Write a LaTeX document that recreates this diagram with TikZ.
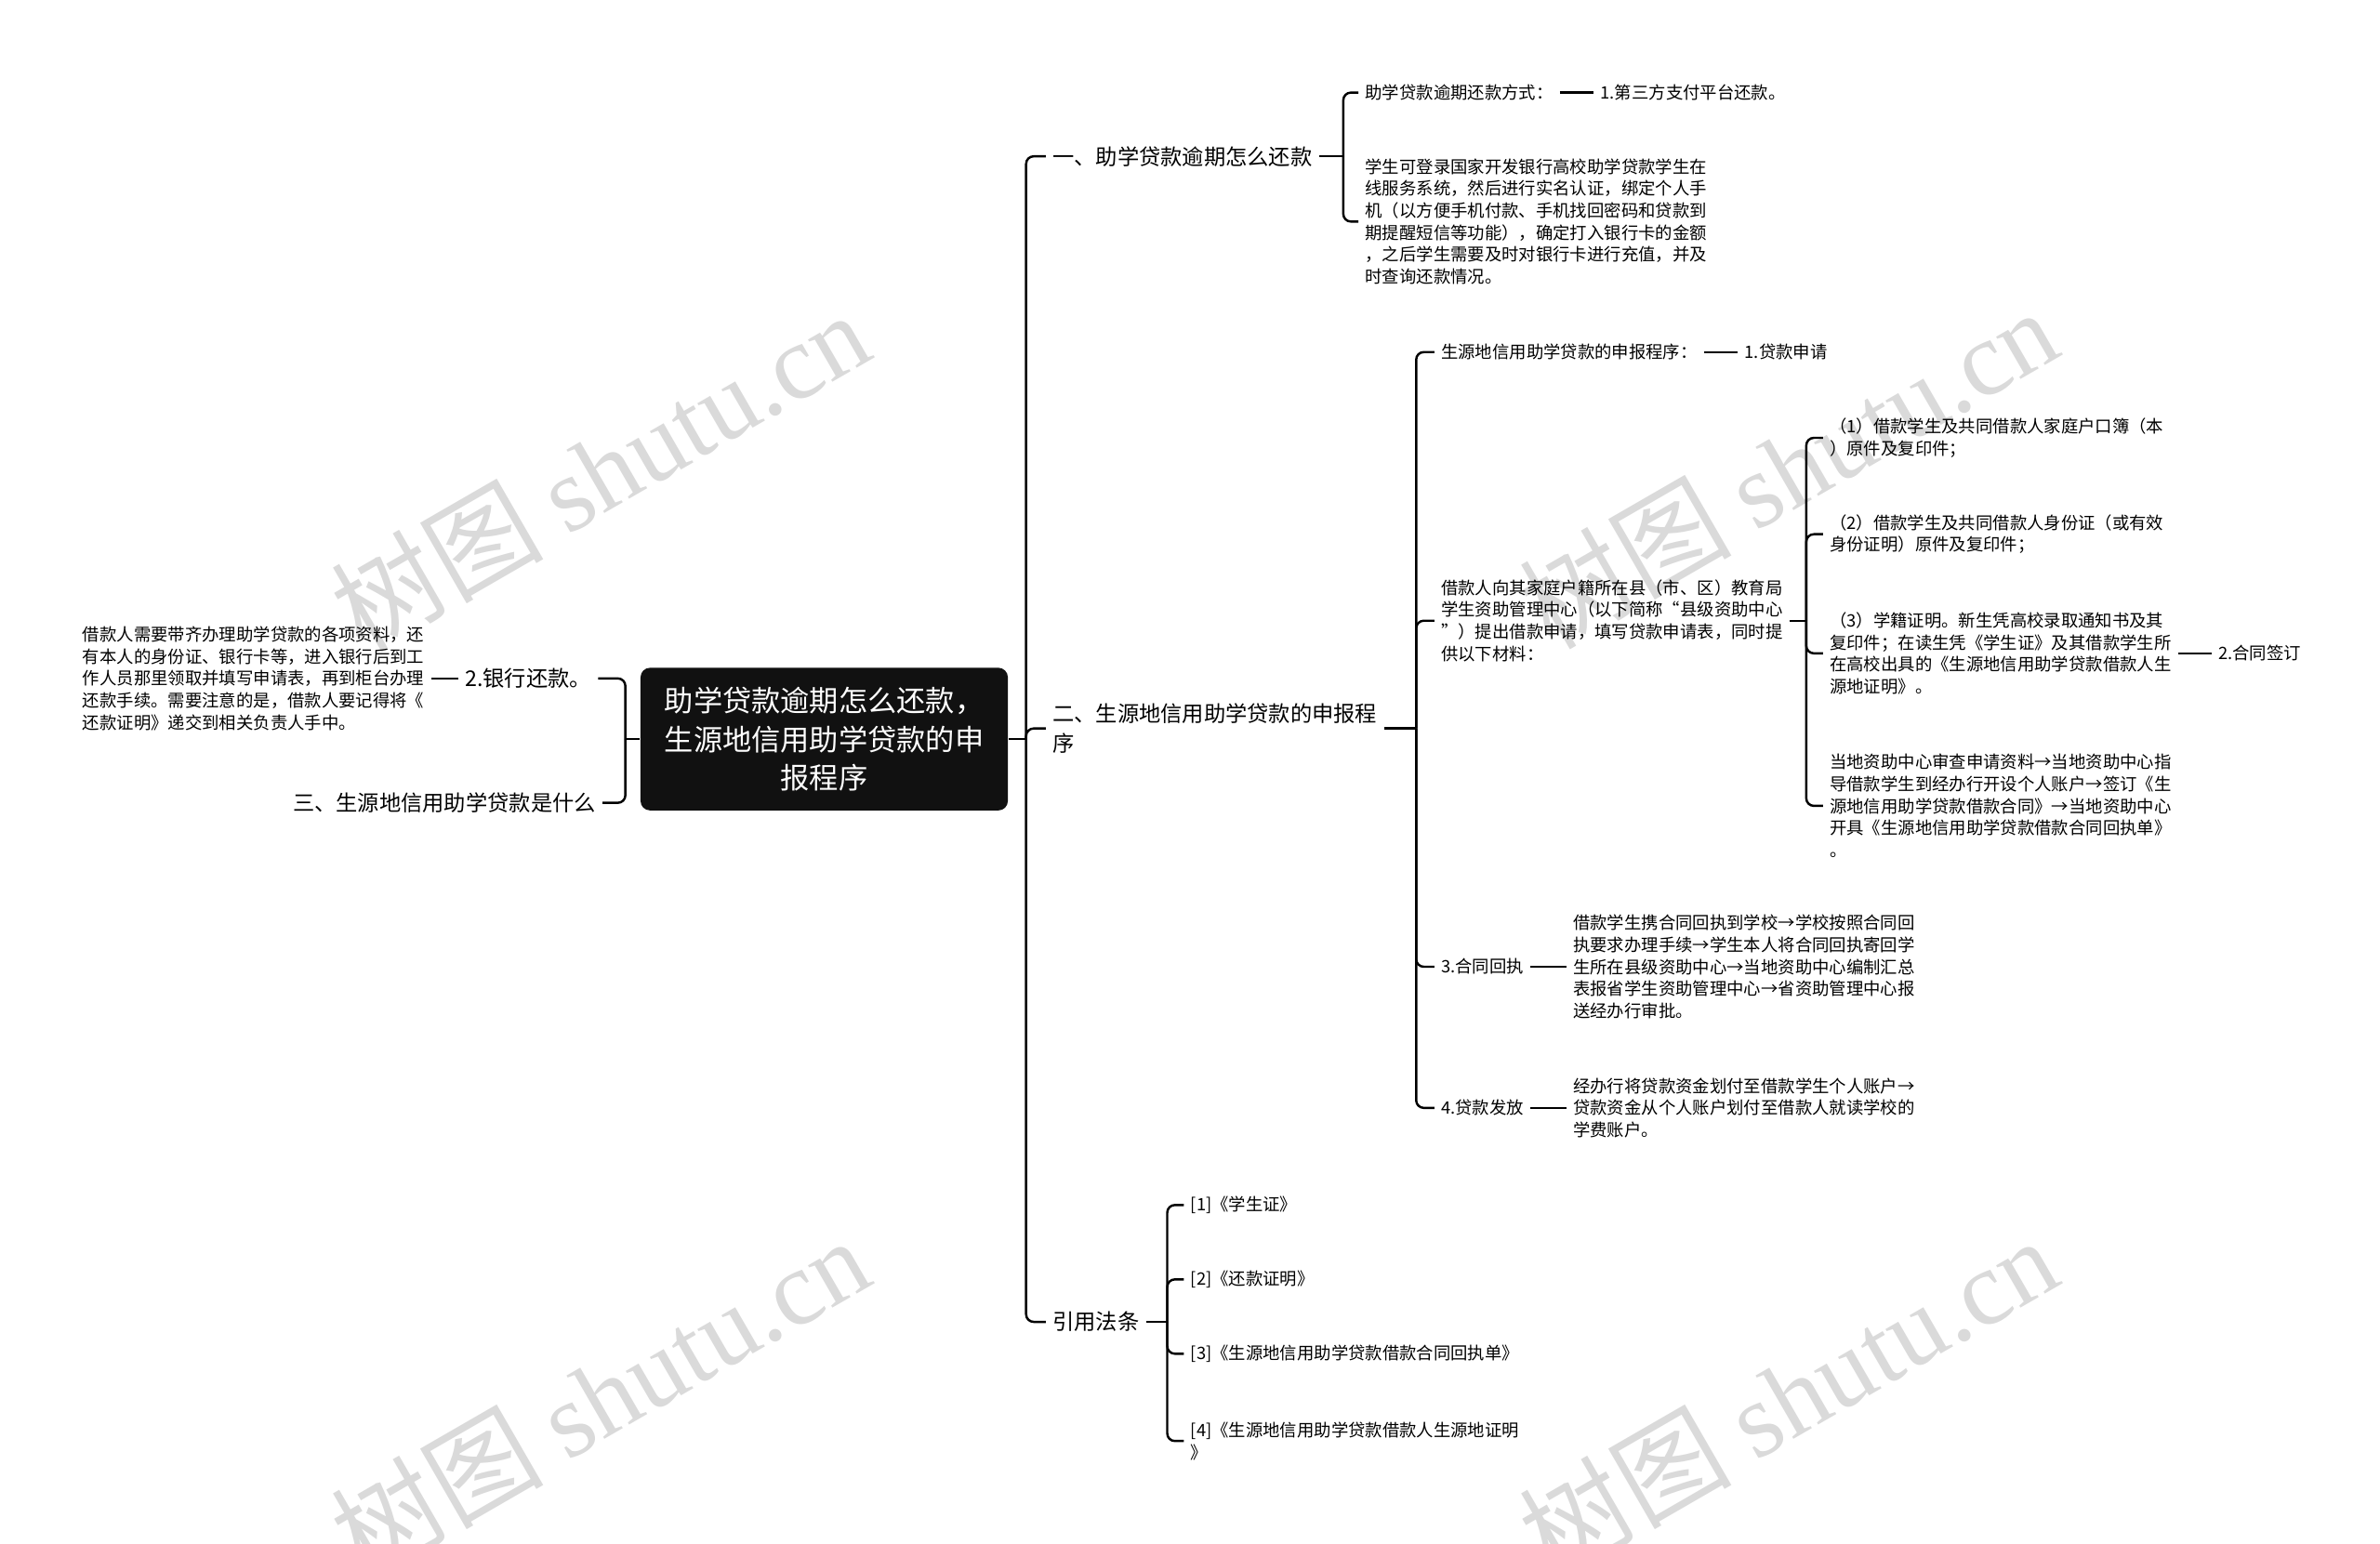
\documentclass[tikz,border=0pt]{standalone}
\usepackage{fontspec}
\setmainfont{Noto Sans CJK SC}
\newfontfamily\wmfont{Liberation Serif}
\usepackage{tikz}
\usetikzlibrary{calc}
\definecolor{rootfill}{HTML}{111111}
\definecolor{wmgray}{HTML}{DADADA}

\begin{document}
\begin{tikzpicture}[x=0.8pt,y=-0.8pt,line width=1.2pt,
  small/.style={inner xsep=3pt,inner ysep=1pt,align=left,font=\fontsize{9}{11.6}\selectfont},
  big/.style={inner xsep=3pt,inner ysep=1pt,align=left,font=\fontsize{11.4}{16}\selectfont},
  rootbox/.style={fill=rootfill,text=white,rounded corners=5pt,minimum width=193.6pt,minimum height=75.2pt,align=center,font=\fontsize{15.3}{20.4}\selectfont},
  brace/.style={rounded corners=4pt},
  wmtext/.style={text=wmgray,rotate=30,inner sep=0pt,font=\fontsize{56}{60}\selectfont}]
\useasboundingbox (0,0) rectangle (1568,1017);
\begin{scope}
\clip (0,0) rectangle (1568,1017);
\node[wmtext] (wm1) at (395,310) {树图 {\wmfont shutu.cn}};
\node[wmtext] (wm2) at (1178,308) {树图 {\wmfont shutu.cn}};
\node[wmtext] (wm3) at (395,920) {树图 {\wmfont shutu.cn}};
\node[wmtext] (wm4) at (1178,920) {树图 {\wmfont shutu.cn}};
\end{scope}

\node[rootbox] (root) at (543,487) {助学贷款逾期怎么还款，\\生源地信用助学贷款的申\\报程序};

\node[big,anchor=west] (n1) at (689,103) {一、助学贷款逾期怎么还款};
\node[big,anchor=west] (n2) at (689,480) {二、生源地信用助学贷款的申报程\\序};
\node[big,anchor=west] (n3) at (689,871) {引用法条};
\node[big,anchor=east] (l1) at (394,447) {2.银行还款。};
\node[big,anchor=east] (l2) at (397,529) {三、生源地信用助学贷款是什么};

\node[small,anchor=east] (l1a) at (284,447) {借款人需要带齐办理助学贷款的各项资料，还\\有本人的身份证、银行卡等，进入银行后到工\\作人员那里领取并填写申请表，再到柜台办理\\还款手续。需要注意的是，借款人要记得将《\\还款证明》递交到相关负责人手中。};

\node[small,anchor=west] (c11) at (895,61) {助学贷款逾期还款方式：};
\node[small,anchor=west] (c12) at (1050,61) {1.第三方支付平台还款。};
\node[small,anchor=west] (c13) at (895,146) {学生可登录国家开发银行高校助学贷款学生在\\线服务系统，然后进行实名认证，绑定个人手\\机（以方便手机付款、手机找回密码和贷款到\\期提醒短信等功能），确定打入银行卡的金额\\，之后学生需要及时对银行卡进行充值，并及\\时查询还款情况。};

\node[small,anchor=west] (c21) at (945,232) {生源地信用助学贷款的申报程序：};
\node[small,anchor=west] (c22) at (1145,232) {1.贷款申请};
\node[small,anchor=west] (c23) at (945,409) {借款人向其家庭户籍所在县（市、区）教育局\\学生资助管理中心（以下简称“县级资助中心\\”）提出借款申请，填写贷款申请表，同时提\\供以下材料：};
\node[small,anchor=west] (d1) at (1201,288.5) {（1）借款学生及共同借款人家庭户口簿（本\\）原件及复印件；};
\node[small,anchor=west] (d2) at (1201,352) {（2）借款学生及共同借款人身份证（或有效\\身份证明）原件及复印件；};
\node[small,anchor=west] (d3) at (1201,430.5) {（3）学籍证明。新生凭高校录取通知书及其\\复印件；在读生凭《学生证》及其借款学生所\\在高校出具的《生源地信用助学贷款借款人生\\源地证明》。};
\node[small,anchor=west] (d3a) at (1457,430.5) {2.合同签订};
\node[small,anchor=west] (d4) at (1201,531) {当地资助中心审查申请资料→当地资助中心指\\导借款学生到经办行开设个人账户→签订《生\\源地信用助学贷款借款合同》→当地资助中心\\开具《生源地信用助学贷款借款合同回执单》\\。};
\node[small,anchor=west] (c24) at (945,637) {3.合同回执};
\node[small,anchor=west] (c24a) at (1032,637) {借款学生携合同回执到学校→学校按照合同回\\执要求办理手续→学生本人将合同回执寄回学\\生所在县级资助中心→当地资助中心编制汇总\\表报省学生资助管理中心→省资助管理中心报\\送经办行审批。};
\node[small,anchor=west] (c25) at (945,730) {4.贷款发放};
\node[small,anchor=west] (c25a) at (1032,730) {经办行将贷款资金划付至借款学生个人账户→\\贷款资金从个人账户划付至借款人就读学校的\\学费账户。};

\node[small,anchor=west] (r1) at (780,794) {[1]《学生证》};
\node[small,anchor=west] (r2) at (780,843) {[2]《还款证明》};
\node[small,anchor=west] (r3) at (780,892) {[3]《生源地信用助学贷款借款合同回执单》};
\node[small,anchor=west] (r4) at (780,949.5) {[4]《生源地信用助学贷款借款人生源地证明\\》};

\coordinate (sp) at (676,487);
\coordinate (bl) at (412,487);
\coordinate (b1) at (885,103);
\coordinate (b2) at (933,480);
\coordinate (b3) at (1190,409);
\coordinate (b4) at (769,871);

\draw (root.east) -- (sp);
\draw[brace] (sp) |- (n1.west);
\draw[brace] (sp) |- (n2.west);
\draw[brace] (sp) |- (n3.west);
\draw (root.west) -- (bl);
\draw[brace] (bl) |- (l1.east);
\draw[brace] (bl) |- (l2.east);
\draw (l1.west) -- (l1a.east);

\draw (n1.east) -- (b1);
\draw[brace] (b1) |- (c11.west);
\draw[brace] (b1) |- (c13.west);
\draw (c11.east) -- (c12.west);

\draw (n2.east) -- (b2);
\draw[brace] (b2) |- (c21.west);
\draw[brace] (b2) |- (c23.west);
\draw[brace] (b2) |- (c24.west);
\draw[brace] (b2) |- (c25.west);
\draw (c21.east) -- (c22.west);
\draw (c24.east) -- (c24a.west);
\draw (c25.east) -- (c25a.west);

\draw (c23.east) -- (b3);
\draw[brace] (b3) |- (d1.west);
\draw[brace] (b3) |- (d2.west);
\draw[brace] (b3) |- (d3.west);
\draw[brace] (b3) |- (d4.west);
\draw (d3.east) -- (d3a.west);

\draw (n3.east) -- (b4);
\draw[brace] (b4) |- (r1.west);
\draw[brace] (b4) |- (r2.west);
\draw[brace] (b4) |- (r3.west);
\draw[brace] (b4) |- (r4.west);
\end{tikzpicture}
\end{document}
